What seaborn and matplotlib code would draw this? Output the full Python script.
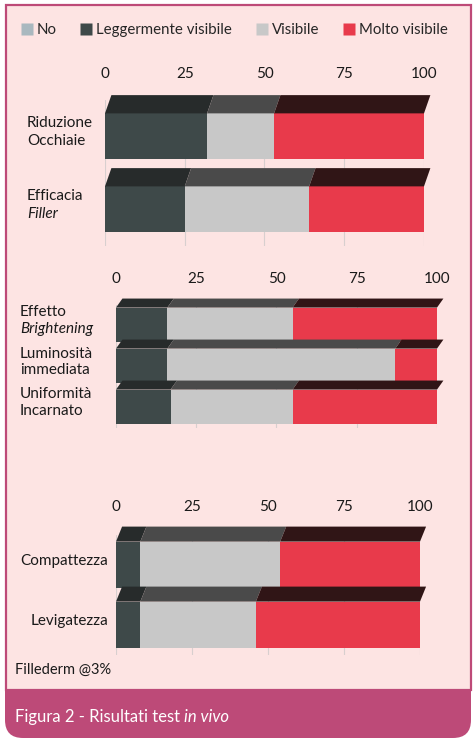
import matplotlib
matplotlib.use("Agg")
import matplotlib.pyplot as plt
import matplotlib.transforms as mtransforms
from matplotlib.patches import Rectangle, FancyBboxPatch, Polygon
from matplotlib.lines import Line2D
import pandas as pd
import seaborn as sns

# data (percent of subjects per rating)
series = ["No", "Leggermente visibile", "Visibile", "Molto visibile"]
ticks = [0, 25, 50, 75, 100]

p1_names = [["Riduzione", "Occhiaie"], ["Efficacia", "Filler"]]
p1_no = [0, 0]
p1_leggermente = [32, 25]
p1_visibile = [21, 39]
p1_molto = [47, 36]

p2_names = [["Effetto", "Brightening"], ["Luminosità", "immediata"], ["Uniformità", "Incarnato"]]
p2_no = [0, 0, 0]
p2_leggermente = [16, 16, 17]
p2_visibile = [39, 71, 38]
p2_molto = [45, 13, 45]

p3_names = [["Compattezza"], ["Levigatezza"]]
p3_no = [0, 0]
p3_leggermente = [8, 8]
p3_visibile = [46, 38]
p3_molto = [46, 54]

italic_words = ["Filler", "Brightening"]
footnote = "Fillederm @3%"
caption = "Figura 2 - Risultati test "
caption_italic = "in vivo"

# colours
pink = "#fde4e3"
band = "#bd4a78"
front = {"No": "#a9b8bf", "Leggermente visibile": "#3e4949",
         "Visibile": "#c8c8c8", "Molto visibile": "#e83a4b"}
topc = {"No": "#6f7a7f", "Leggermente visibile": "#272b2b",
        "Visibile": "#4a4a4a", "Molto visibile": "#301516"}

sns.set_theme(style="white")
plt.rcParams["font.family"] = ["Lato", "DejaVu Sans"]

W, H = 4.77, 7.44
fig = plt.figure(figsize=(W, H), dpi=100)
fig.patch.set_facecolor("white")

# frame: pink panel with magenta border, caption band with rounded bottom
fig.patches.append(FancyBboxPatch((0.05, 0.06), 4.66, 1.0, boxstyle="round,pad=0,rounding_size=0.18",
                                  transform=fig.dpi_scale_trans, facecolor=band, edgecolor="none", zorder=-2))
fig.patches.append(Rectangle((0.055, 0.54), 4.65, 6.85, transform=fig.dpi_scale_trans,
                             facecolor=pink, edgecolor=band, lw=1.6, zorder=-1))


def px_axes(left, right, top, bottom):
    return fig.add_axes([left / 477, 1 - bottom / 744, (right - left) / 477, (bottom - top) / 744])


def draw_panel(ax, names, cols, width, depth, label_x, label_ha, pad, line_off):
    cats = [" ".join(n) for n in names]
    cum = []
    run = [0] * len(cats)
    for c in cols:
        run = [a + b for a, b in zip(run, c)]
        cum.append(run)
    df = pd.DataFrame({"cat": cats})
    for i, s in enumerate(series):
        df[s] = cum[i]
    # stacked bars: draw the longest cumulative first
    for i in reversed(range(len(series))):
        sns.barplot(data=df, x=series[i], y="cat", orient="h", color=front[series[i]],
                    saturation=1, width=width, edgecolor="none", ax=ax, zorder=3)
    # darker top face of each block
    shift = 2
    for j in range(len(cats)):
        for i, s in enumerate(series):
            lo = 0 if i == 0 else cum[i - 1][j]
            hi = cum[i][j]
            if hi - lo <= 0:
                continue
            yt = j - width / 2
            ax.add_patch(Polygon([(lo, yt), (hi, yt), (hi + shift, yt - depth), (lo + shift, yt - depth)],
                                 closed=True, facecolor=topc[s], edgecolor="none", zorder=3, clip_on=False))
    ax.set_xlim(0, 100)
    ax.set_ylim(len(cats) - 0.5, -0.5)
    ax.set_xticks(ticks)
    ax.xaxis.tick_top()
    ax.tick_params(axis="x", length=0, pad=pad, labelsize=11, labelcolor="#1a1a1a")
    ax.set_yticks([])
    ax.set_xlabel("")
    ax.set_ylabel("")
    ax.set_facecolor("none")
    ax.grid(axis="x", color="#d8cfcf", lw=0.8)
    ax.set_axisbelow(True)
    for sp in ax.spines.values():
        sp.set_visible(False)
    # category labels
    trans = mtransforms.blended_transform_factory(fig.transFigure, ax.transData)
    for j, lines in enumerate(names):
        n = len(lines)
        for k, line in enumerate(lines):
            dy = (n - 1) / 2 * line_off - k * line_off + 3
            ax.annotate(line, xy=(label_x / 477, j), xycoords=trans, xytext=(0, dy),
                        textcoords="offset points", ha=label_ha, va="center", fontsize=11,
                        color="#1a1a1a", style="italic" if line in italic_words else "normal")


ax1 = px_axes(105, 424, 99.5, 245.5)
draw_panel(ax1, p1_names, [p1_no, p1_leggermente, p1_visibile, p1_molto],
           0.62, 0.25, 27, "left", 13, 13)

ax2 = px_axes(116, 437, 304.5, 427.5)
draw_panel(ax2, p2_names, [p2_no, p2_leggermente, p2_visibile, p2_molto],
           0.85, 0.22, 20, "left", 13, 12)

ax3 = px_axes(116, 420, 535, 655)
draw_panel(ax3, p3_names, [p3_no, p3_leggermente, p3_visibile, p3_molto],
           0.78, 0.25, 108, "right", 15, 12)

# legend
handles = [Line2D([], [], marker="s", ls="none", markersize=8.5, markerfacecolor=front[s],
                  markeredgecolor="none", label=s) for s in series]
fig.legend(handles=handles, loc="center", bbox_to_anchor=(234 / 477, 1 - 30 / 744), ncol=4,
           frameon=False, fontsize=10.8, handletextpad=0.2, columnspacing=1.55, handlelength=0.9)

fig.text(15 / 477, 1 - 670 / 744, footnote, fontsize=10.5, color="#1a1a1a", va="center")

t = fig.text(15 / 477, 1 - 717 / 744, caption, fontsize=12, color="white", va="center")
r = fig.canvas.get_renderer()
bb = t.get_window_extent(renderer=r).transformed(fig.transFigure.inverted())
fig.text(bb.x1, 1 - 717 / 744, caption_italic, fontsize=12, color="white", va="center", style="italic")

fig.savefig("out.png", dpi=100)
